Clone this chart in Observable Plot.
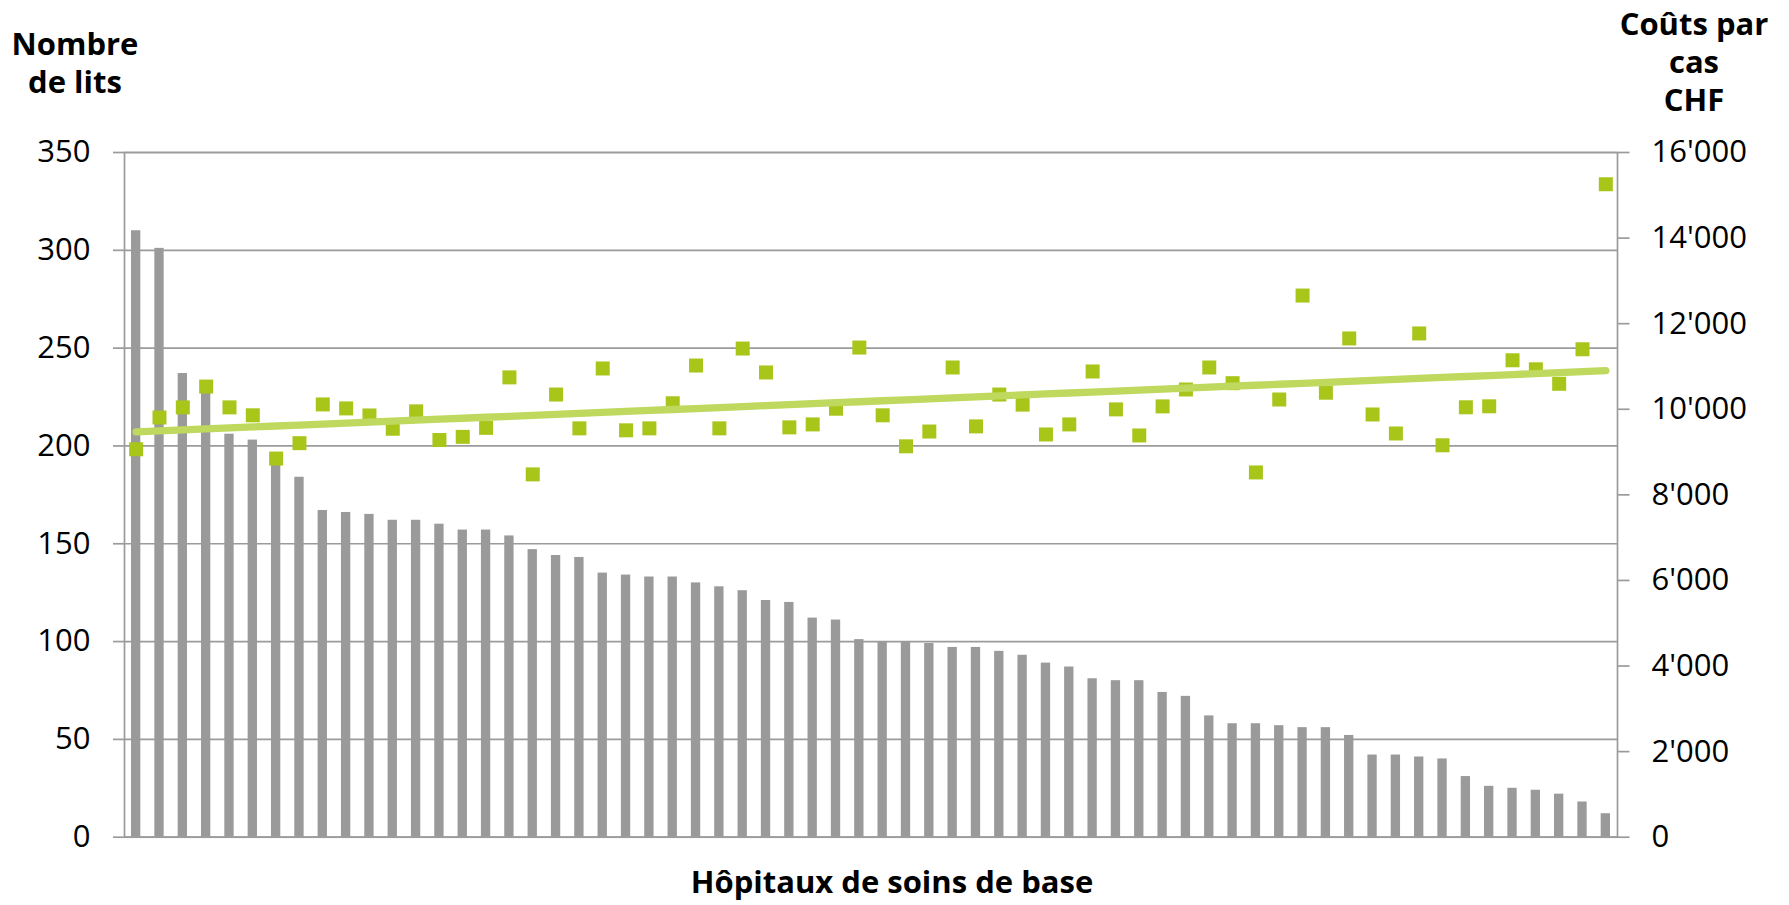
<!DOCTYPE html>
<html>
<head>
<meta charset="utf-8">
<script src="https://cdn.jsdelivr.net/npm/d3@7"></script>
<script src="https://cdn.jsdelivr.net/npm/@observablehq/plot@0.6"></script>
<style>
  html, body { margin: 0; padding: 0; background: #fff; }
  #wrap { position: relative; width: 1789px; height: 905px; font-family: "Open Sans", sans-serif; color: #000; }
  .ttl { position: absolute; font-size: 31px; font-weight: 700; line-height: 38.3px; text-align: center; white-space: nowrap; }
</style>
</head>
<body>
<div id="wrap">
  <div id="chart"></div>
  <div class="ttl" style="left:0px; top:23.8px; width:150px;">Nombre<br>de lits</div>
  <div class="ttl" style="left:1594px; top:3.8px; width:200px;">Coûts par<br>cas<br>CHF</div>
  <div class="ttl" style="left:0px; top:861.8px; width:1784px;">Hôpitaux de soins de base</div>
</div>
<script>
// Categories: the 64 basic-care hospitals (unnamed in the source)
const hospitals = ["H1","H2","H3","H4","H5","H6","H7","H8","H9","H10","H11","H12","H13","H14","H15","H16",
  "H17","H18","H19","H20","H21","H22","H23","H24","H25","H26","H27","H28","H29","H30","H31","H32",
  "H33","H34","H35","H36","H37","H38","H39","H40","H41","H42","H43","H44","H45","H46","H47","H48",
  "H49","H50","H51","H52","H53","H54","H55","H56","H57","H58","H59","H60","H61","H62","H63","H64"];

// Number of beds (left axis)
const beds = [310, 301, 237, 230, 206, 203, 192, 184, 167, 166, 165, 162, 162, 160, 157, 157,
  154, 147, 144, 143, 135, 134, 133, 133, 130, 128, 126, 121, 120, 112, 111, 101,
  100, 100, 99, 97, 97, 95, 93, 89, 87, 81, 80, 80, 74, 72, 62, 58,
  58, 57, 56, 56, 52, 42, 42, 41, 40, 31, 26, 25, 24, 22, 18, 12];

// Cost per case in CHF (right axis)
const costs = [9065, 9808, 10044, 10530, 10044, 9859, 8848, 9208, 10113, 10020, 9855, 9545, 9951, 9281, 9355, 9565,
  10745, 8478, 10344, 9554, 10953, 9508, 9554, 10140, 11022, 9554, 11419, 10860, 9577, 9646, 10013, 11442,
  9859, 9134, 9480, 10976, 9600, 10344, 10108, 9411, 9646, 10883, 9997, 9388, 10067, 10462, 10976, 10610,
  8524, 10228, 12657, 10387, 11655, 9878, 9434, 11772, 9158, 10046, 10069, 11145, 10934, 10595, 11402, 15258];

// Tick values
const bedTicks = [0, 50, 100, 150, 200, 250, 300, 350];
const costTicks = [0, 2000, 4000, 6000, 8000, 10000, 12000, 14000, 16000];
const bedMax = 350, costMax = 16000;

const toBeds = c => c * bedMax / costMax;
const fmt = d3.formatLocale({decimal: ".", thousands: "'", grouping: [3], currency: ["", ""]}).format(",");

const table = hospitals.map((h, i) => ({hospital: h, idx: i + 1, beds: beds[i], cost: costs[i], costScaled: toBeds(costs[i])}));

// Linear trend of cost vs. hospital rank (least squares)
const mx = d3.mean(table, d => d.idx), my = d3.mean(table, d => d.cost);
const slope = d3.sum(table, d => (d.idx - mx) * (d.cost - my)) / d3.sum(table, d => (d.idx - mx) ** 2);
const intercept = my - slope * mx;
const trend = table.map(d => ({hospital: d.hospital, y: toBeds(intercept + slope * d.idx)}));

const gridColor = "#9b9b9b";

const chart = Plot.plot({
  width: 1789,
  height: 905,
  marginTop: 152,
  marginBottom: 68.3,
  marginLeft: 124,
  marginRight: 172,
  style: {fontFamily: "Open Sans, sans-serif", fontSize: "31px", color: "#000", background: "#fff"},
  x: {type: "band", domain: hospitals, paddingInner: 0.6, paddingOuter: 0.3, round: false, axis: null},
  y: {domain: [0, bedMax], axis: null},
  marks: [
    Plot.gridY(bedTicks, {stroke: gridColor, strokeOpacity: 1, strokeWidth: 1.7}),
    Plot.barY(table, {x: "hospital", y: "beds", fill: "#9a9a9a"}),
    Plot.frame({stroke: gridColor, strokeWidth: 1.7}),
    Plot.axisY(bedTicks, {anchor: "left", tickSize: 11, tickPadding: 23, stroke: gridColor, strokeWidth: 1.7, fill: "#000", fontSize: 31, label: null}),
    Plot.axisY(costTicks.map(toBeds), {anchor: "right", tickSize: 11.5, tickPadding: 22.5, stroke: gridColor, strokeWidth: 1.7, fill: "#000", fontSize: 31, label: null,
      tickFormat: d => fmt(Math.round(d * costMax / bedMax))}),
    Plot.dot(table, {x: "hospital", y: "costScaled", symbol: "square", r: 7.9, fill: "#a8c61a", stroke: null}),
    Plot.line(trend, {x: "hospital", y: "y", stroke: "#bfd85e", strokeWidth: 7.3, strokeLinecap: "round"})
  ]
});
document.getElementById("chart").appendChild(chart);
</script>
</body>
</html>
